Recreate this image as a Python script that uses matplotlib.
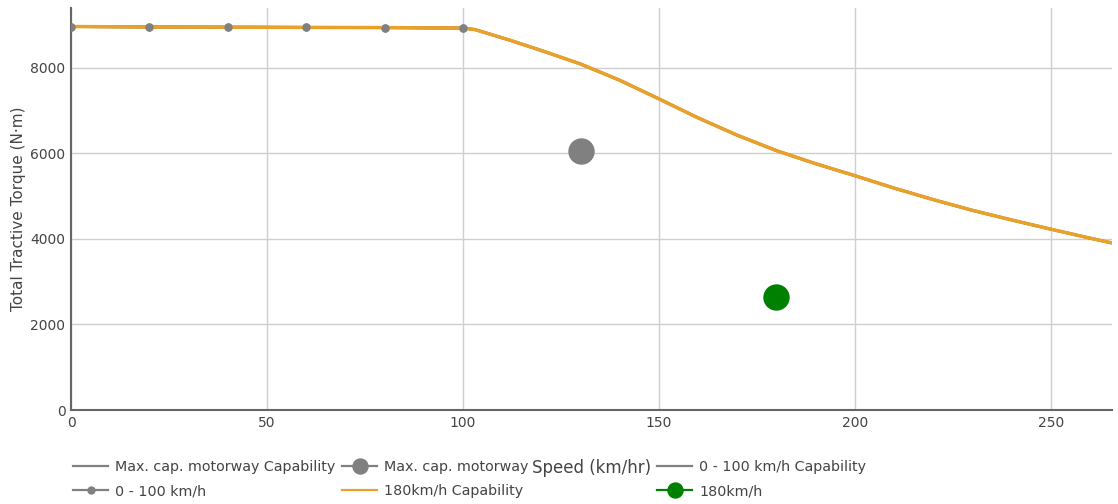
import matplotlib.pyplot as plt
import numpy as np

# data
low_speed = [0, 20, 40, 60, 80, 100]
low_torque = [8960, 8950, 8945, 8940, 8935, 8925]

cap_speed = [0, 20, 40, 60, 80, 100, 103, 107, 112, 120, 130, 140, 150, 160, 170,
             180, 190, 200, 210, 220, 230, 240, 250, 260, 266]
cap_torque = [8960, 8950, 8945, 8940, 8935, 8925, 8890, 8780, 8640, 8400, 8085, 7705,
              7270, 6825, 6420, 6060, 5755, 5475, 5185, 4915, 4665, 4440, 4225, 4015, 3895]

motorway_pt = ([130], [6050])
fast_pt = ([180], [2630])

plt.rcParams['font.family'] = ['DejaVu Sans']
txt = '#444444'

fig = plt.figure(figsize=(11.18, 5.04), dpi=100)
ax = fig.add_axes([71 / 1118, 1 - 410 / 504, (1112 - 71) / 1118, (410 - 8) / 504])

# series (gray ones sit under the orange curve)
l_mc, = ax.plot(cap_speed, cap_torque, color='gray', lw=2, label='Max. cap. motorway Capability')
l_lc, = ax.plot(cap_speed, cap_torque, color='gray', lw=2, label='0 - 100 km/h Capability')
l_low, = ax.plot(low_speed, low_torque, '-o', color='gray', lw=2, ms=5, label='0 - 100 km/h')
l_fc, = ax.plot(cap_speed, cap_torque, color='#E9A12A', lw=2.5, label='180km/h Capability', zorder=4)
l_mp, = ax.plot(*motorway_pt, '-o', color='gray', ms=18, lw=2, label='Max. cap. motorway', zorder=5)
l_fp, = ax.plot(*fast_pt, '-o', color='green', ms=18, lw=2, label='180km/h', zorder=5)
ax.plot(low_speed, low_torque, 'o', color='gray', ms=5, zorder=6)

ax.set_xlim(0, 265.6)
ax.set_ylim(0, 9393)
ax.set_xticks([0, 50, 100, 150, 200, 250])
ax.set_yticks([0, 2000, 4000, 6000, 8000])
ax.grid(True, color='#cfcfcf', lw=1)
ax.set_axisbelow(True)
for s in ['top', 'right']:
    ax.spines[s].set_visible(False)
for s in ['left', 'bottom']:
    ax.spines[s].set_color('#666666')
    ax.spines[s].set_linewidth(1.5)
ax.tick_params(length=0, labelsize=10, colors=txt, pad=4)
ax.set_ylabel('Total Tractive Torque (N·m)', fontsize=11, color=txt)
ax.yaxis.set_label_coords((19 - 71) / 1041, 0.5)
ax.yaxis.label.set_va('center')
ax.set_xlabel('Speed (km/hr)', fontsize=12, color=txt)
ax.xaxis.set_label_coords(0.5, -(468 - 410) / 402)
ax.xaxis.label.set_va('center')

# legend in three columns like the reference
cols = [([l_mc, l_low], 73), ([l_mp, l_fc], 342), ([l_lc, l_fp], 657)]
for handles, xpix in cols:
    leg = fig.legend(handles=handles, loc='upper left',
                     bbox_to_anchor=(xpix / 1118, 1 - 460 / 504),
                     frameon=False, borderpad=0, borderaxespad=0,
                     handlelength=2.45, handletextpad=0.5, labelspacing=0.7,
                     markerscale=0.6, prop={'size': 10.3})
    for t in leg.get_texts():
        t.set_color(txt)
    for line in leg.get_lines():
        line.set_linewidth(1.6)
# small dot marker in legend should stay small
for line in fig.legends[0].get_lines():
    if line.get_marker() == 'o':
        line.set_markersize(5)

fig.savefig('out.png', dpi=100)
